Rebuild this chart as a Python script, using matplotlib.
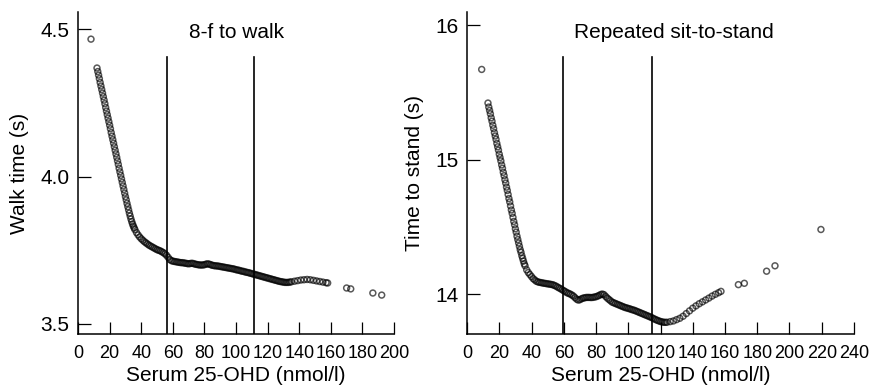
import matplotlib
matplotlib.use("Agg")
import matplotlib.pyplot as plt

plt.rcParams['font.family'] = ['Liberation Sans', 'DejaVu Sans']

# ---------------- data: 8-f to walk ----------------
walk_x = [8.2,
          12, 12.5, 13, 13.5, 14, 14.5, 15, 15.5, 16, 16.5, 17, 17.5, 18, 18.5, 19, 19.5,
          20, 20.5, 21, 21.5, 22, 22.5, 23, 23.5, 24, 24.5, 25, 25.5, 26, 26.5, 27, 27.5,
          28, 28.5, 29, 29.5, 30, 30.5, 31, 31.5, 32, 32.5, 33, 33.5, 34, 34.5, 35, 35.5,
          36, 37, 38, 39, 40, 41, 42, 43, 44, 45, 46, 47, 48, 49, 50, 51, 52, 53, 54, 55,
          56, 57, 58, 59, 60, 61, 62, 63, 64, 65, 66, 67, 68, 69, 70, 71, 72, 73, 74, 75,
          76, 77, 78, 79, 80, 81, 82, 83, 84, 85, 86, 87, 88, 89, 90, 91, 92, 93, 94, 95,
          96, 97, 98, 99, 100, 101, 102, 103, 104, 105, 106, 107, 108, 109, 110, 111, 112,
          113, 114, 115, 116, 117, 118, 119, 120, 121, 122, 123, 124, 125, 126, 127, 128,
          129, 130, 131, 132, 133, 134, 135, 137, 139, 141, 143, 145, 147, 149, 151, 153,
          155, 157, 158,
          170.0, 172.6, 186.6, 192.2]
walk_y = [4.466,
          4.368, 4.356, 4.344, 4.332, 4.319, 4.307, 4.295, 4.283, 4.271, 4.259, 4.247, 4.234,
          4.222, 4.210, 4.198, 4.186, 4.174, 4.162, 4.149, 4.137, 4.125, 4.113, 4.101, 4.089,
          4.077, 4.065, 4.053, 4.041, 4.028, 4.016, 4.004, 3.992, 3.980, 3.968, 3.956, 3.944,
          3.932, 3.921, 3.909, 3.898, 3.887, 3.876, 3.866, 3.856, 3.847, 3.839, 3.832, 3.826,
          3.820, 3.810, 3.802, 3.795, 3.789, 3.784, 3.779, 3.775, 3.771, 3.767, 3.764, 3.761,
          3.758, 3.755, 3.752, 3.750, 3.748, 3.745, 3.742, 3.738, 3.733, 3.726, 3.719, 3.715,
          3.713, 3.712, 3.711, 3.710, 3.709, 3.708, 3.708, 3.707, 3.706, 3.705, 3.704, 3.705,
          3.706, 3.705, 3.703, 3.702, 3.701, 3.700, 3.700, 3.700, 3.701, 3.703, 3.704, 3.703,
          3.701, 3.699, 3.698, 3.697, 3.697, 3.696, 3.695, 3.694, 3.693, 3.692, 3.691, 3.690,
          3.689, 3.688, 3.687, 3.686, 3.684, 3.683, 3.682, 3.680, 3.679, 3.678, 3.676, 3.675,
          3.674, 3.672, 3.671, 3.669, 3.668, 3.666, 3.665, 3.663, 3.662, 3.660, 3.659, 3.657,
          3.656, 3.654, 3.653, 3.651, 3.650, 3.648, 3.647, 3.645, 3.644, 3.643, 3.642, 3.641,
          3.641, 3.641, 3.642, 3.643, 3.645, 3.647, 3.649, 3.650, 3.651, 3.650, 3.648, 3.646,
          3.644, 3.642, 3.640, 3.639,
          3.622, 3.619, 3.605, 3.598]

# ---------------- data: repeated sit-to-stand ----------------
stand_x = [9.1,
           13, 13.5, 14, 14.5, 15, 15.5, 16, 16.5, 17, 17.5, 18, 18.5, 19, 19.5, 20, 20.5,
           21, 21.5, 22, 22.5, 23, 23.5, 24, 24.5, 25, 25.5, 26, 26.5, 27, 27.5, 28, 28.5,
           29, 29.5, 30, 30.5, 31, 31.5, 32, 32.5, 33, 33.5, 34, 34.5, 35, 35.5, 36, 37, 38,
           39, 40, 41, 42, 43, 44, 45, 46, 47, 48, 49, 50, 51, 52, 53, 54, 55, 56, 57, 58,
           59, 60, 61, 62, 63, 64, 65, 66, 67, 68, 69, 70, 71, 72, 73, 74, 75, 76, 77, 78,
           79, 80, 81, 82, 83, 84, 85, 86, 87, 88, 89, 90, 91, 92, 93, 94, 95, 96, 97, 98,
           99, 100, 101, 102, 103, 104, 105, 106, 107, 108, 109, 110, 111, 112, 113, 114,
           115, 116, 117, 118, 119, 120, 121, 122, 123, 124, 126, 128, 130, 132, 134, 136,
           138, 140, 142, 144, 146, 148, 150, 152, 154, 156, 157.5,
           168.3, 172.0, 185.8, 191.0, 219.5]
stand_y = [15.67,
           15.42, 15.39, 15.365, 15.34, 15.31, 15.285, 15.255, 15.23, 15.20, 15.175, 15.15,
           15.12, 15.095, 15.07, 15.04, 15.015, 14.99, 14.96, 14.935, 14.905, 14.88, 14.85,
           14.825, 14.795, 14.77, 14.74, 14.71, 14.685, 14.655, 14.625, 14.60, 14.57, 14.54,
           14.515, 14.485, 14.46, 14.43, 14.405, 14.38, 14.355, 14.33, 14.31, 14.285, 14.265,
           14.245, 14.225, 14.21, 14.18, 14.16, 14.145, 14.13, 14.115, 14.105, 14.095, 14.09,
           14.087, 14.085, 14.082, 14.08, 14.078, 14.076, 14.074, 14.072, 14.07, 14.065,
           14.06, 14.053, 14.046, 14.04, 14.032, 14.025, 14.018, 14.01, 14.005, 14.0, 13.993,
           13.985, 13.973, 13.962, 13.955, 13.958, 13.965, 13.97, 13.972, 13.975, 13.975,
           13.975, 13.974, 13.975, 13.978, 13.98, 13.985, 13.99, 13.997, 14.0, 13.995,
           13.982, 13.97, 13.96, 13.95, 13.94, 13.935, 13.93, 13.925, 13.92, 13.915, 13.91,
           13.905, 13.90, 13.897, 13.893, 13.89, 13.885, 13.882, 13.878, 13.873, 13.868,
           13.863, 13.858, 13.853, 13.848, 13.843, 13.838, 13.833, 13.828, 13.822, 13.816,
           13.81, 13.805, 13.80, 13.796, 13.793, 13.79, 13.79, 13.79, 13.795, 13.80, 13.81,
           13.82, 13.835, 13.855, 13.875, 13.895, 13.912, 13.928, 13.942, 13.956, 13.97,
           13.985, 13.998, 14.01, 14.02,
           14.07, 14.08, 14.17, 14.21, 14.48]

walk_xticks = [0, 20, 40, 60, 80, 100, 120, 140, 160, 180, 200]
walk_yticks = [3.5, 4.0, 4.5]
walk_yticklabels = ["3.5", "4.0", "4.5"]
stand_xticks = [0, 20, 40, 60, 80, 100, 120, 140, 160, 180, 200, 220, 240]
stand_yticks = [14, 15, 16]
walk_cuts = [56.3, 111.4]
stand_cuts = [59.5, 114.7]

fig = plt.figure(figsize=(8.7, 3.86), dpi=100)
ax1 = fig.add_axes([0.0897, 0.1347, 0.3632, 0.8342])
ax2 = fig.add_axes([0.5368, 0.1347, 0.4448, 0.8342])

def style(ax, xlim, ylim, xticks, yticks, ylabel, title, tx):
    ax.set_xlim(*xlim)
    ax.set_ylim(*ylim)
    for s in ['top', 'right']:
        ax.spines[s].set_visible(False)
    for s in ['left', 'bottom']:
        ax.spines[s].set_linewidth(1.1)
        ax.spines[s].set_color('black')
    ax.set_xticks(xticks)
    ax.set_yticks(yticks)
    ax.tick_params(axis='both', direction='in', length=9, width=0.9, colors='black')
    ax.tick_params(axis='x', labelsize=13, pad=8)
    ax.tick_params(axis='y', labelsize=15, pad=6)
    ax.set_xlabel("Serum 25-OHD (nmol/l)", fontsize=15, labelpad=3)
    ax.set_ylabel(ylabel, fontsize=15, labelpad=8)
    ax.text(tx, 0.935, title, transform=ax.transAxes, ha='center', va='center', fontsize=15)

style(ax1, (0, 200), (3.466, 4.558), walk_xticks, walk_yticks, "Walk time (s)", "8-f to walk", 0.503)
ax1.set_yticklabels(walk_yticklabels)
style(ax2, (0, 240), (13.703, 16.097), stand_xticks, stand_yticks, "Time to stand (s)", "Repeated sit-to-stand", 0.535)

for ax, cuts in ((ax1, walk_cuts), (ax2, stand_cuts)):
    for c in cuts:
        ax.axvline(c, ymin=0, ymax=0.86, color='black', lw=1.2)

ax1.scatter(walk_x, walk_y, s=18, facecolors='none', edgecolors=(0, 0, 0, 0.65), linewidths=1.1, clip_on=False)
ax2.scatter(stand_x, stand_y, s=18, facecolors='none', edgecolors=(0, 0, 0, 0.65), linewidths=1.1, clip_on=False)

fig.savefig("out.png", dpi=100)
